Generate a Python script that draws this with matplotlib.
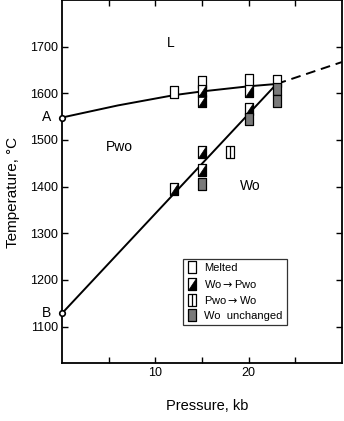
import matplotlib
matplotlib.use('Agg')
import matplotlib.pyplot as plt
from matplotlib.path import Path

plt.rcParams['font.family'] = ['Liberation Sans', 'DejaVu Sans']

# phase boundaries (pressure kb, temperature C)
melt_p = [0, 6, 12, 15, 20, 23]
melt_t = [1548, 1574, 1596, 1604, 1615, 1620]
melt_ext_p = [23, 30]
melt_ext_t = [1620, 1667]
trans_p = [0, 23]
trans_t = [1128, 1620]

# experiments
melted_p = [12, 15, 20, 23]
melted_t = [1603, 1625, 1628, 1627]
wo_pwo_p = [15, 15, 20, 20, 15, 15, 12]
wo_pwo_t = [1605, 1584, 1605, 1566, 1474, 1435, 1394]
pwo_wo_p = [18]
pwo_wo_t = [1474]
unch_p = [15, 20, 23, 23]
unch_t = [1405, 1544, 1609, 1584]

w, h = 0.72, 1.0
rect = Path([(-w, -h), (w, -h), (w, h), (-w, h), (-w, -h)], closed=True)
tri = Path([(-w, -h), (w, -h), (w, h), (-w, -h)], closed=True)
split = Path([(0, -h), (0, h)], [Path.MOVETO, Path.LINETO])
ms = 8

fig = plt.figure(figsize=(3.44, 4.21), dpi=100)
ax = fig.add_axes([0.180, 0.138, 0.814, 0.862])

ax.plot(melt_p, melt_t, color='black', lw=1.4)
ax.plot(melt_ext_p, melt_ext_t, color='black', lw=1.4, ls=(0, (5, 3)))
ax.plot(trans_p, trans_t, color='black', lw=1.4)
ax.plot([0, 0], [melt_t[0], trans_t[0]], ls='none', marker='o', ms=4,
        mfc='white', mec='black', mew=1.2, clip_on=False, zorder=5)


def rects(p, t, face):
    return ax.plot(p, t, ls='none', marker=rect, ms=ms, mfc=face, mec='black', mew=0.9, zorder=4)[0]


h1 = rects(melted_p, melted_t, 'white')
h2a = rects(wo_pwo_p, wo_pwo_t, 'white')
h2b = ax.plot(wo_pwo_p, wo_pwo_t, ls='none', marker=tri, ms=ms, mfc='black', mec='black', mew=0.5, zorder=4)[0]
h3a = rects(pwo_wo_p, pwo_wo_t, 'white')
h3b = ax.plot(pwo_wo_p, pwo_wo_t, ls='none', marker=split, ms=ms, mec='black', mew=0.9, zorder=4)[0]
h4 = rects(unch_p, unch_t, '#7a7a7a')

ax.text(11.7, 1708, 'L', fontsize=10, ha='center', va='center')
ax.text(6.2, 1484, 'Pwo', fontsize=10, ha='center', va='center')
ax.text(20.2, 1402, 'Wo', fontsize=10, ha='center', va='center')
ax.text(-1.6, 1549, 'A', fontsize=10, ha='center', va='center', clip_on=False)
ax.text(-1.6, 1128, 'B', fontsize=10, ha='center', va='center', clip_on=False)

ax.set_xlim(0, 30)
ax.set_ylim(1022, 1800)
ax.set_xticks([5, 10, 15, 20, 25])
ax.set_xticklabels(['', '10', '', '20', ''])
ax.set_yticks([1100, 1200, 1300, 1400, 1500, 1600, 1700])
ax.tick_params(direction='in', top=True, right=True, length=4, width=1, labelsize=9, pad=3)
for s in ax.spines.values():
    s.set_linewidth(1.3)

ax.set_xlabel('Pressure, kb', fontsize=10.5)
ax.set_ylabel('Temperature, \u00b0C', fontsize=11)
ax.xaxis.set_label_coords(0.52, -0.10)
ax.yaxis.set_label_coords(-0.15, 0.47)

handles = [h1, (h2a, h2b), (h3a, h3b), h4]
labels = ['Melted', 'Wo$\\rightarrow$Pwo', 'Pwo$\\rightarrow$Wo', 'Wo  unchanged']
leg = ax.legend(handles, labels, loc='upper left', bbox_to_anchor=(0.432, 0.287),
                fontsize=8, frameon=True, fancybox=False, edgecolor='black',
                handlelength=0.9, handletextpad=0.6, labelspacing=0.4,
                borderpad=0.4, borderaxespad=0)
leg.get_frame().set_linewidth(0.9)

fig.savefig('out.png', dpi=100)
